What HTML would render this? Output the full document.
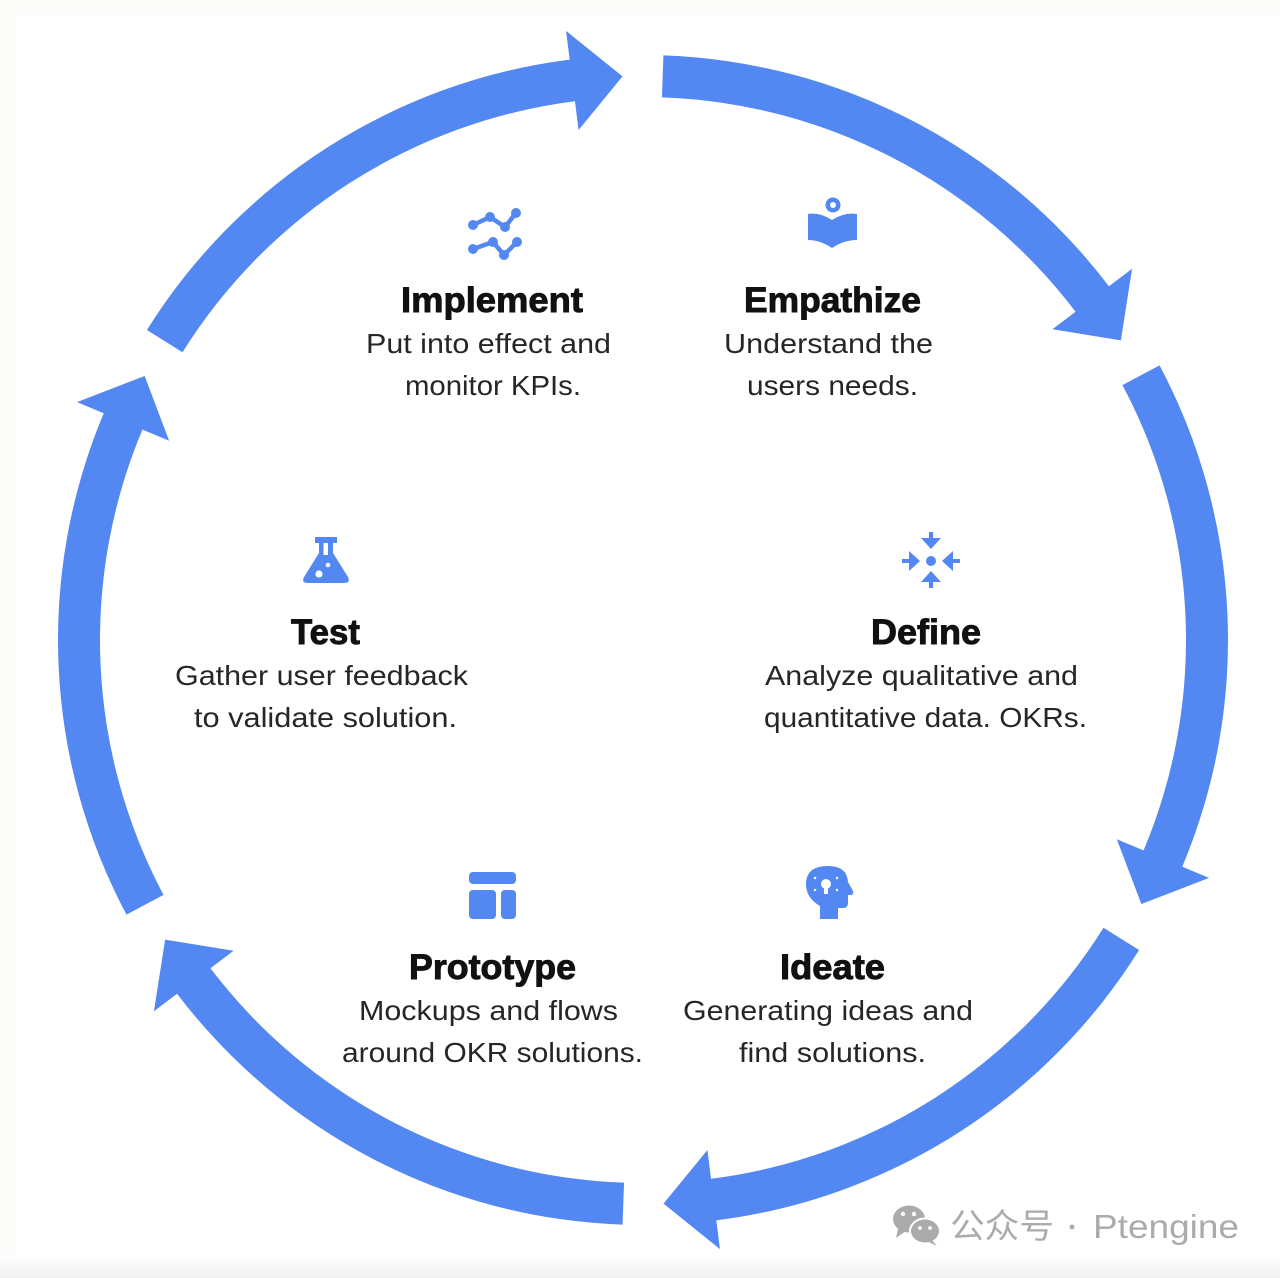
<!DOCTYPE html>
<html>
<head>
<meta charset="utf-8">
<style>
  html,body{margin:0;padding:0;background:#fcfcfb;width:1280px;height:1278px;overflow:hidden;}
  svg{display:block;position:absolute;left:0;top:0;overflow:hidden;}
  .h{font-family:"Liberation Sans",Arial,sans-serif;font-weight:bold;font-size:35px;fill:#111;stroke:#111;stroke-width:0.9px;}
  .b{font-family:"Liberation Sans",Arial,sans-serif;font-size:28px;fill:#262626;}
  .w{font-family:"Liberation Sans","Noto Sans CJK SC",sans-serif;fill:#ababab;}
</style>
</head>
<body>
<svg width="1280" height="1278" viewBox="0 0 1280 1278" xmlns="http://www.w3.org/2000/svg">
  <defs>
    <linearGradient id="bot" x1="0" y1="0" x2="0" y2="1">
      <stop offset="0" stop-color="#ffffff"/>
      <stop offset="1" stop-color="#f1f1f1"/>
    </linearGradient>
    <path id="arc" d="M 663.42 55.36 A 585 585 0 0 1 1108.97 286.31 L 1132.07 268.78 L 1120.87 340.43 L 1052.42 329.24 L 1075.52 311.70 A 543 543 0 0 0 661.95 97.33 Z"/>
  </defs>
  <rect x="16" y="15" width="1264" height="1250" fill="#ffffff"/>
  <rect x="0" y="1255" width="1280" height="23" fill="url(#bot)"/>

  <!-- ring arrows -->
  <g fill="#5388F2">
    <use href="#arc"/>
    <use href="#arc" transform="rotate(60 643 640)"/>
    <use href="#arc" transform="rotate(120 643 640)"/>
    <use href="#arc" transform="rotate(180 643 640)"/>
    <use href="#arc" transform="rotate(240 643 640)"/>
    <use href="#arc" transform="rotate(300 643 640)"/>
  </g>

  <!-- Implement icon -->
  <g stroke="#5388F2" stroke-width="4.5" fill="none" stroke-linecap="round" stroke-linejoin="round">
    <polyline points="473,225 490,217 505,227 516,213"/>
    <polyline points="473,249 493,242 504,255 517,242"/>
  </g>
  <g fill="#5388F2">
    <circle cx="473" cy="225" r="5"/><circle cx="490" cy="217" r="5"/><circle cx="505" cy="227" r="5"/><circle cx="516" cy="213" r="5"/>
    <circle cx="473" cy="249" r="5"/><circle cx="493" cy="242" r="5"/><circle cx="504" cy="255" r="5"/><circle cx="517" cy="242" r="5"/>
  </g>

  <!-- Empathize icon -->
  <g fill="#5388F2">
    <circle cx="833" cy="205" r="7.5"/>
    <path d="M808 214 Q820 212 832 220 Q844 212 857 214 L857 240 Q844 240 832 248 Q820 240 808 240 Z"/>
  </g>
  <circle cx="833" cy="205" r="3" fill="#fff"/>

  <!-- Test icon -->
  <path fill="#5388F2" d="M315 537 H337 V543 H333 V553 L348 577 Q351 583 344 583 H308 Q301 583 304 577 L319 553 V543 H315 Z"/>
  <rect x="323.5" y="543" width="4.5" height="12" fill="#fff"/>
  <circle cx="319" cy="574" r="3.6" fill="#fff"/>
  <circle cx="328" cy="565" r="2.3" fill="#fff"/>

  <!-- Define icon -->
  <g fill="#5388F2">
    <circle cx="931" cy="561" r="5"/>
    <rect x="929" y="532" width="4" height="8"/><polygon points="921,538 941,538 931,549"/>
    <rect x="929" y="580" width="4" height="8"/><polygon points="921,582 941,582 931,571"/>
    <rect x="902" y="559" width="9" height="4"/><polygon points="909,551 909,571 920,561"/>
    <rect x="951" y="559" width="9" height="4"/><polygon points="953,551 953,571 942,561"/>
  </g>

  <!-- Prototype icon -->
  <g fill="#5388F2">
    <rect x="469" y="872" width="47" height="12" rx="4"/>
    <rect x="469" y="890" width="27" height="29" rx="4"/>
    <rect x="501" y="890" width="15" height="29" rx="4"/>
  </g>

  <!-- Ideate icon -->
  <path fill="#5388F2" d="M820 919 V906 Q806 898 806 884 Q806 866 828 866 Q847 866 848 882 L853 891 Q854 895 850 895 H848 V903 Q848 908 843 908 H838 V919 Z"/>
  <g fill="#fff">
    <circle cx="826" cy="884" r="5"/>
    <rect x="824" y="886" width="4" height="8"/>
    <circle cx="815" cy="878" r="1.2"/><circle cx="837" cy="878" r="1.2"/>
    <circle cx="815" cy="890" r="1.2"/><circle cx="837" cy="890" r="1.2"/>
  </g>

  <!-- Labels -->
  <text class="h" x="401" y="312" textLength="182" lengthAdjust="spacingAndGlyphs">Implement</text>
  <text class="b" x="366" y="353" textLength="245" lengthAdjust="spacingAndGlyphs">Put into effect and</text>
  <text class="b" x="405" y="395" textLength="176" lengthAdjust="spacingAndGlyphs">monitor KPIs.</text>

  <text class="h" x="744" y="312" textLength="177" lengthAdjust="spacingAndGlyphs">Empathize</text>
  <text class="b" x="724" y="353" textLength="209" lengthAdjust="spacingAndGlyphs">Understand the</text>
  <text class="b" x="747" y="395" textLength="171" lengthAdjust="spacingAndGlyphs">users needs.</text>

  <text class="h" x="291" y="644" textLength="69" lengthAdjust="spacingAndGlyphs">Test</text>
  <text class="b" x="175" y="685" textLength="293" lengthAdjust="spacingAndGlyphs">Gather user feedback</text>
  <text class="b" x="194" y="727" textLength="263" lengthAdjust="spacingAndGlyphs">to validate solution.</text>

  <text class="h" x="871" y="644" textLength="110" lengthAdjust="spacingAndGlyphs">Define</text>
  <text class="b" x="765" y="685" textLength="313" lengthAdjust="spacingAndGlyphs">Analyze qualitative and</text>
  <text class="b" x="764" y="727" textLength="323" lengthAdjust="spacingAndGlyphs">quantitative data. OKRs.</text>

  <text class="h" x="409" y="979" textLength="167" lengthAdjust="spacingAndGlyphs">Prototype</text>
  <text class="b" x="359" y="1020" textLength="259" lengthAdjust="spacingAndGlyphs">Mockups and flows</text>
  <text class="b" x="342" y="1062" textLength="301" lengthAdjust="spacingAndGlyphs">around OKR solutions.</text>

  <text class="h" x="780" y="979" textLength="105" lengthAdjust="spacingAndGlyphs">Ideate</text>
  <text class="b" x="683" y="1020" textLength="290" lengthAdjust="spacingAndGlyphs">Generating ideas and</text>
  <text class="b" x="739" y="1062" textLength="187" lengthAdjust="spacingAndGlyphs">find solutions.</text>

  <!-- Watermark -->
  <g fill="#ababab">
    <ellipse cx="909" cy="1219" rx="16" ry="13.5"/>
    <polygon points="898,1229 896,1238 906,1231"/>
  </g>
  <ellipse cx="925" cy="1231" rx="16" ry="13.5" fill="#fff"/>
  <g fill="#ababab">
    <ellipse cx="925" cy="1231" rx="14" ry="11.5"/>
    <polygon points="931,1239 937,1246 927,1241"/>
  </g>
  <g fill="#fff">
    <circle cx="903" cy="1214" r="2.2"/><circle cx="914" cy="1214" r="2.2"/>
    <circle cx="920" cy="1228" r="1.9"/><circle cx="930" cy="1228" r="1.9"/>
  </g>
  <text class="w" x="950" y="1238" font-size="34" textLength="104" lengthAdjust="spacingAndGlyphs">公众号</text>
  <circle cx="1072" cy="1227" r="2.5" fill="#ababab"/>
  <text class="w" x="1093" y="1238" font-size="33" textLength="146" lengthAdjust="spacingAndGlyphs">Ptengine</text>
</svg>
</body>
</html>
